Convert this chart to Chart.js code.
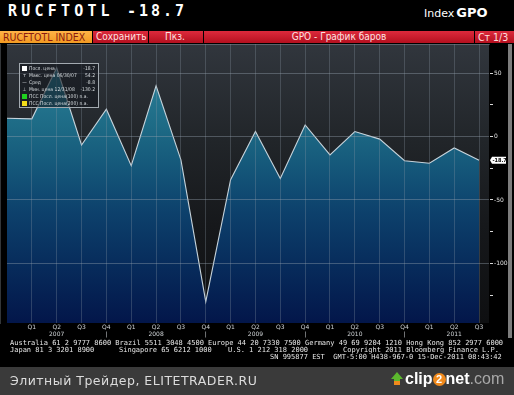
<!DOCTYPE html>
<html>
<head>
<meta charset="utf-8">
<script src="https://cdn.jsdelivr.net/npm/chart.js@4.4.1/dist/chart.umd.min.js"></script>
<style>
    body { margin: 0; width: 514px; height: 395px; background: #000; position: relative; overflow: hidden; font-family: 'DejaVu Sans', sans-serif; }
    .abs { position: absolute; white-space: pre; }
    #ticker { left: 8px; top: 2px; color: #fff; font: bold 15px 'DejaVu Sans Mono', monospace; letter-spacing: 4.2px; }
    #last { left: 127px; top: 2px; color: #fff; font: bold 15px 'DejaVu Sans Mono', monospace; letter-spacing: 3px; }
    #idx { left: 424px; top: 5px; color: #fff; font-size: 11px; }
    #idx b { font-size: 13px; margin-left: 2px; }
    .tab { top: 31px; height: 12px; line-height: 12px; font: 10px 'DejaVu Sans Condensed', sans-serif; color: #ffe0e0;
           background: linear-gradient(#dc2a3c, #b5101f); box-sizing: border-box; }
    #t1 { left: 0; width: 92px; background: linear-gradient(#ffb347, #f29a22); color: #8a1a10; padding-left: 3px; font-size: 10.5px; }
    #t2 { left: 93px; width: 55px; padding-left: 3px; }
    #t3 { left: 149px; width: 54px; padding-left: 16px; }
    #t4 { left: 204px; width: 270px; text-align: center; }
    #t5 { left: 475px; width: 39px; padding-left: 3px; font-size: 10.5px; }
    #gpo { position: absolute; left: 0; top: 44px; }
    #legend { position: absolute; left: 19px; top: 63px; width: 80px; height: 45px; border: 1px solid #a3aab0; background: rgba(18,22,28,0.6);
              font: 5px 'DejaVu Sans Condensed', sans-serif; color: #d8dde0; box-sizing: border-box; padding: 1px 2px; white-space: nowrap; }
    .row { height: 7px; line-height: 7px; position: relative; }
    .row .ic { display: inline-block; width: 5px; height: 5px; vertical-align: middle; margin-right: 2px; text-align: center; line-height: 5px; }
    .row .v { position: absolute; right: 1px; top: 0; }
    .foot { color: #e6e6e6; font: 7px 'DejaVu Sans Mono', monospace; line-height: 7px; }
    #scroll { left: 508px; top: 44px; width: 4px; height: 294px; background: #7d7d7d; }
    #band { left: 0; top: 367px; width: 514px; height: 28px; background: #3a3a3a; }
    #site { left: 10px; top: 373px; color: #dcdcdc; font-size: 12.5px; letter-spacing: 0.5px; }
    #clip { left: 390px; top: 370px; font: bold 16px 'Liberation Sans', Arial, sans-serif; color: #fff; }
    #clip .two { display: inline-block; width: 13px; height: 13px; border-radius: 7px; background: #f08a1c; color: #fff;
                 font-size: 11px; line-height: 13px; text-align: center; vertical-align: 1px; }
    #clip .com { color: #a8a8a8; font-weight: normal; }
    #arrow { display: inline-block; position: relative; width: 13px; height: 13px; vertical-align: -1px; margin-right: 2px; }
    #arrow:before { content: ''; position: absolute; left: 1px; top: 0; border-left: 6px solid transparent; border-right: 6px solid transparent; border-bottom: 7px solid #5cb82e; }
    #arrow:after { content: ''; position: absolute; left: 4px; top: 6px; width: 6px; height: 7px; background: linear-gradient(#5cb82e 40%, #f08a1c 40%); }
</style>
</head>
<body>
<div class="abs" id="ticker">RUCFTOTL</div>
<div class="abs" id="last">-18.7</div>
<div class="abs" id="idx">Index<b>GPO</b></div>

<div class="abs tab" id="t1">RUCFTOTL INDEX</div>
<div class="abs tab" id="t2">Сохранить</div>
<div class="abs tab" id="t3">Пкз.</div>
<div class="abs tab" id="t4">GPO - График баров</div>
<div class="abs tab" id="t5">Ст 1/3</div>

<canvas id="gpo" width="514" height="296"></canvas>

<div id="legend">
    <div class="row"><span class="ic" style="background:#fff"></span>Посл. цена<span class="v">-18.7</span></div>
    <div class="row"><span class="ic">т</span>Макс. цена 06/30/07<span class="v">54.2</span></div>
    <div class="row"><span class="ic">—</span>Сред<span class="v">-8.8</span></div>
    <div class="row"><span class="ic">⊥</span>Мин. цена 12/31/08<span class="v">-130.2</span></div>
    <div class="row"><span class="ic" style="background:#1fd21f"></span>ПСС Посл. цена(100) n.a.</div>
    <div class="row"><span class="ic" style="background:#f2dc1a"></span>ПСС Посл. цена(200) n.a.</div>
</div>

<div class="abs foot" style="left:10px;top:340px">Australia 61 2 9777 8600 Brazil 5511 3048 4500 Europe 44 20 7330 7500 Germany 49 69 9204 1210 Hong Kong 852 2977 6000</div>
<div class="abs foot" style="left:10px;top:347px">Japan 81 3 3201 8900</div>
<div class="abs foot" style="left:119px;top:347px">Singapore 65 6212 1000</div>
<div class="abs foot" style="left:228px;top:347px">U.S. 1 212 318 2000</div>
<div class="abs foot" style="left:343px;top:347px">Copyright 2011 Bloomberg Finance L.P.</div>
<div class="abs foot" style="left:270px;top:354px">SN 995877 EST  GMT-5:00 H438-967-0 15-Dec-2011 08:43:42</div>

<div class="abs" id="scroll"></div>
<div class="abs" id="band"></div>
<div class="abs" id="site">Элитный Трейдер, ELITETRADER.RU</div>
<div class="abs" id="clip"><span id="arrow"></span>clip<span class="two">2</span>net<span class="com">.com</span></div>

<script>
// квартальные значения RUCFTOTL, Q4 2006 .. Q3 2011
const quarterLabels = ['Q4', 'Q1', 'Q2', 'Q3', 'Q4', 'Q1', 'Q2', 'Q3', 'Q4', 'Q1',
                       'Q2', 'Q3', 'Q4', 'Q1', 'Q2', 'Q3', 'Q4', 'Q1', 'Q2', 'Q3'];
const yearLabels = ['', '', '2007', '', '|', '', '2008', '', '|', '',
                    '2009', '', '|', '', '2010', '', '|', '', '2011', ''];
const values = [14.5, 14, 54.2, -6.6, 21.6, -23, 40, -18.4, -130.2, -34,
                4, -33, 9.2, -14.5, 4, -2, -19, -21, -9, -18.7];
const yTicks = [-125, -100, -75, -50, -25, 0, 25, 50];
const yLabeled = [-100, -50, 0, 50];
const lastLabel = '-18.7';

const plotBg = {
    id: 'plotBg',
    beforeDraw(chart) {
        const a = chart.chartArea;
        const ctx = chart.ctx;
        const g = ctx.createLinearGradient(0, a.top, 0, a.bottom);
        g.addColorStop(0, '#31363d');
        g.addColorStop(0.35, '#212529');
        g.addColorStop(0.65, '#16181b');
        g.addColorStop(1, '#0e0f11');
        ctx.save();
        ctx.fillStyle = g;
        ctx.fillRect(a.left, a.top, a.right - a.left, a.bottom - a.top);
        ctx.restore();
    }
};

// бирка последнего значения на правой оси
const lastTag = {
    id: 'lastTag',
    afterDraw(chart) {
        const ctx = chart.ctx;
        const y = chart.scales.y.getPixelForValue(values[values.length - 1]);
        const x = chart.chartArea.right;
        ctx.save();
        ctx.fillStyle = '#fff';
        ctx.beginPath();
        ctx.moveTo(x + 1, y);
        ctx.lineTo(x + 3, y - 3.5);
        ctx.lineTo(x + 17, y - 3.5);
        ctx.lineTo(x + 17, y + 3.5);
        ctx.lineTo(x + 3, y + 3.5);
        ctx.closePath();
        ctx.fill();
        ctx.fillStyle = '#000';
        ctx.font = 'bold 5.5px "DejaVu Sans Condensed"';
        ctx.textBaseline = 'middle';
        ctx.fillText(lastLabel, x + 3.5, y + 0.5);
        ctx.restore();
    }
};

function fillGradient(context) {
    const chart = context.chart;
    const a = chart.chartArea;
    if (!a) return '#1b6580';
    const g = chart.ctx.createLinearGradient(0, a.top, 0, a.bottom);
    g.addColorStop(0.05, '#2d839b');
    g.addColorStop(0.3, '#1d6a85');
    g.addColorStop(0.45, '#145679');
    g.addColorStop(0.6, '#0d416c');
    g.addColorStop(0.8, '#072b5b');
    g.addColorStop(1, '#03164a');
    return g;
}

new Chart(document.getElementById('gpo'), {
    type: 'line',
    data: {
        datasets: [{
            data: values.map((v, i) => ({ x: i, y: v })),
            borderColor: '#c6d3db',
            borderWidth: 1.1,
            pointRadius: 0,
            tension: 0,
            fill: 'start',
            backgroundColor: fillGradient
        }]
    },
    options: {
        responsive: false,
        animation: false,
        devicePixelRatio: 1,
        layout: { padding: { left: 7, right: 0, top: 0, bottom: 0 } },
        plugins: { legend: { display: false }, tooltip: { enabled: false } },
        scales: {
            x: {
                type: 'linear',
                min: 0,
                max: values.length - 0.6,
                afterBuildTicks: axis => { axis.ticks = quarterLabels.map((q, i) => ({ value: i })).slice(1); },
                afterFit: axis => { axis.height = 17; axis.paddingLeft = 0; axis.paddingRight = 0; },
                grid: { color: 'rgba(140,152,165,0.3)', drawTicks: false, z: 1 },
                border: { color: 'rgba(170,180,190,0.7)' },
                ticks: {
                    padding: 1,
                    color: '#cfd3d6',
                    font: { size: 6, family: 'DejaVu Sans' },
                    maxRotation: 0,
                    autoSkip: false,
                    callback: v => yearLabels[v] ? [quarterLabels[v], yearLabels[v]] : quarterLabels[v]
                }
            },
            y: {
                position: 'right',
                min: -147,
                max: 73,
                afterBuildTicks: axis => { axis.ticks = yTicks.map(v => ({ value: v })); },
                afterFit: axis => { axis.width = 25; axis.paddingTop = 0; axis.paddingBottom = 0; },
                grid: {
                    color: c => yLabeled.includes(c.tick && c.tick.value) ? 'rgba(150,162,175,0.4)' : 'rgba(0,0,0,0)',
                    tickColor: '#d8d8d8',
                    tickLength: 4,
                    z: 1
                },
                border: { color: 'rgba(170,180,190,0.6)' },
                ticks: {
                    padding: 1,
                    color: '#e0e0e0',
                    font: { size: 6, family: 'DejaVu Sans' },
                    callback: v => yLabeled.includes(v) ? v : ''
                }
            }
        }
    },
    plugins: [plotBg, lastTag]
});
</script>
</body>
</html>
